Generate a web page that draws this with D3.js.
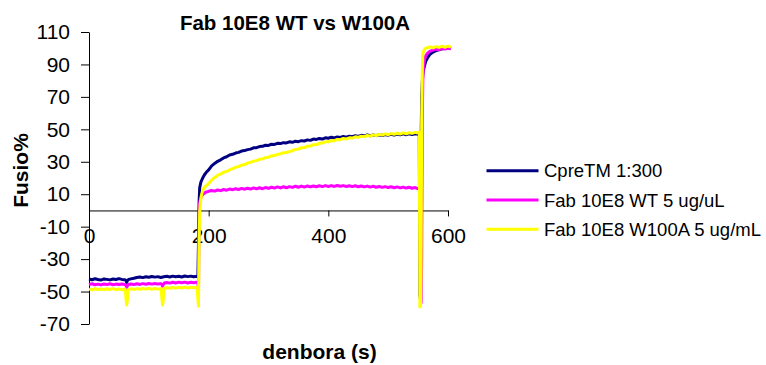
<!DOCTYPE html>
<html><head><meta charset="utf-8">
<script src="https://cdn.jsdelivr.net/npm/d3@7/dist/d3.min.js"></script>
<style>
html,body{margin:0;padding:0;background:#fff;}
svg{display:block;font-family:"Liberation Sans",Arial,sans-serif;}
</style></head>
<body>
<svg id="c" width="766" height="365"></svg>
<script>
const title = "Fab 10E8 WT vs W100A";
const xLabel = "denbora (s)";
const yLabel = "Fusio%";
const xTicks = [0, 200, 400, 600];
const yTicks = [-70, -50, -30, -10, 10, 30, 50, 70, 90, 110];
const seriesNames = ["CpreTM 1:300", "Fab 10E8 WT 5 ug/uL", "Fab 10E8 W100A 5 ug/mL"];
const seriesColors = ["#000080", "#FF00FF", "#FFFF00"];

// CpreTM 1:300  [time s, fusion %]
const cpreTM = [
 [0,-42.3],[5,-42.7],[10,-42.1],[15,-42.6],[20,-42.9],[25,-42.2],[30,-42.5],[35,-42.8],[40,-42.3],[45,-42.6],
 [50,-42.0],[55,-42.5],[60,-42.7],[62,-43.2],[63,-44.5],[64,-43.4],[66,-42.6],[70,-42.2],[75,-41.8],[80,-41.3],
 [85,-41.0],[90,-41.4],[95,-40.9],[100,-41.2],[105,-40.7],[110,-41.1],[115,-40.8],[120,-41.3],[125,-40.9],[130,-40.6],
 [135,-41.0],[140,-40.5],[145,-40.9],[150,-40.6],[155,-41.0],[160,-40.4],[165,-40.8],[170,-40.5],[175,-40.9],[180,-40.6],
 [182,-41.0],[183,-20],[184,5],[185,14],[187,17.5],[190,20],[193,22],[196,23.5],[200,25],[205,27.5],
 [210,29],[215,30.3],[220,31.2],[225,32.4],[230,33.1],[235,34.2],[240,34.6],[245,35.4],[250,35.8],[255,36.6],
 [260,36.9],[265,37.5],[270,37.8],[275,38.6],[280,38.7],[285,39.4],[290,39.5],[295,40.2],[300,40.1],[305,40.8],
 [310,40.7],[315,41.4],[320,41.2],[325,41.8],[330,41.6],[335,42.3],[340,42.0],[345,42.7],[350,42.4],[355,43.0],
 [360,42.8],[365,43.5],[370,43.2],[375,44.0],[380,43.8],[385,44.4],[390,44.0],[395,44.8],[400,44.5],[405,45.1],
 [410,44.7],[415,45.3],[420,45.0],[425,45.6],[430,45.2],[435,45.8],[440,45.5],[445,46.1],[450,45.6],[455,46.3],
 [460,45.9],[465,46.5],[470,46.0],[475,46.6],[480,46.1],[485,46.7],[490,46.2],[495,46.8],[500,46.4],[505,47.0],
 [510,46.5],[515,47.1],[520,46.6],[525,47.2],[530,46.7],[535,47.3],[540,46.8],[545,47.3],[550,47.0],[552,47.1],
 [553,-52],[554,-55],[555,40],[556,70],[557,79],[558,84],[559,86.5],[561,89.5],[563,92],[566,94.2],
 [570,96.3],[575,97.6],[580,98.5],[585,99.0],[590,99.6],[595,99.8],[600,100.3],[605,100.0]
];

// Fab 10E8 WT 5 ug/uL
const fabWT = [
 [0,-45.6],[5,-45.2],[10,-45.8],[15,-45.4],[20,-45.9],[25,-45.3],[30,-45.7],[35,-45.2],[40,-45.8],[45,-45.4],
 [50,-45.7],[55,-45.3],[60,-45.6],[62,-46.3],[63,-47.5],[64,-46.6],[66,-45.6],[70,-45.3],[75,-45.7],[80,-45.2],
 [85,-45.6],[90,-45.1],[95,-45.5],[100,-45.0],[105,-45.4],[110,-45.0],[115,-45.4],[120,-45.1],[122,-45.8],[123,-46.8],
 [124,-45.8],[126,-44.7],[130,-44.4],[135,-44.8],[140,-44.3],[145,-44.7],[150,-44.2],[155,-44.6],[160,-44.2],[165,-44.7],
 [170,-44.3],[175,-44.6],[180,-44.2],[182,-44.5],[183,-52],[184,0],[185,5],[187,8],[190,9.8],[195,11.2],
 [200,11.8],[205,12.3],[210,11.9],[215,12.6],[220,12.2],[225,12.9],[230,12.5],[235,13.2],[240,12.8],[245,13.4],
 [250,12.9],[255,13.6],[260,13.1],[265,13.7],[270,13.2],[275,13.9],[280,13.3],[285,14.0],[290,13.4],[295,14.1],
 [300,13.6],[305,14.3],[310,13.8],[315,14.5],[320,13.9],[325,14.6],[330,14.0],[335,14.7],[340,14.2],[345,14.9],
 [350,14.3],[355,15.0],[360,14.4],[365,15.1],[370,14.5],[375,15.1],[380,14.6],[385,15.2],[390,14.7],[395,15.3],
 [400,14.8],[405,15.3],[410,14.8],[415,15.4],[420,14.9],[425,15.3],[430,14.8],[435,15.2],[440,14.7],[445,15.2],
 [450,14.6],[455,15.1],[460,14.5],[465,15.0],[470,14.4],[475,14.9],[480,14.3],[485,14.8],[490,14.2],[495,14.7],
 [500,14.1],[505,14.6],[510,14.0],[515,14.5],[520,13.9],[525,14.4],[530,13.8],[535,14.3],[540,13.7],[545,14.1],
 [548,13.6],[554,13.5],[555,-57],[556,-30],[557,55],[558,82],[559,89],[561,93],[563,95.5],[566,97],
 [570,98.2],[575,98.8],[580,99.4],[585,99.1],[590,99.8],[595,99.5],[600,100.1],[605,99.7]
];

// Fab 10E8 W100A 5 ug/mL
const fabW100A = [
 [0,-48.5],[5,-48.9],[10,-48.3],[15,-48.8],[20,-48.4],[25,-48.9],[30,-48.3],[35,-48.7],[40,-48.2],[45,-48.8],
 [50,-48.4],[55,-48.9],[60,-48.4],[61,-50],[62,-55],[63,-58.3],[64,-56],[65,-49],[70,-48.3],[75,-48.7],
 [80,-48.2],[85,-48.6],[90,-48.1],[95,-48.5],[100,-48.0],[105,-48.6],[110,-48.1],[115,-48.5],[120,-48.2],[121,-50],
 [122,-55],[123,-58.3],[124,-56],[125,-48],[130,-47.6],[135,-48.0],[140,-47.5],[145,-47.9],[150,-47.4],[155,-47.8],
 [160,-47.3],[165,-47.8],[170,-47.4],[175,-47.7],[180,-47.3],[181,-49],[182,-55],[183,-59],[184,-20],[185,-1],
 [186,4.5],[188,9.5],[190,12.5],[193,14.2],[196,15.3],[200,16.6],[204,18.3],[208,19.8],[212,20.7],[216,21.9],
 [220,22.4],[225,23.5],[230,24.0],[236,25.2],[240,25.6],[245,26.6],[250,27.0],[255,27.9],[260,28.3],[265,29.2],
 [270,29.6],[275,30.4],[280,30.7],[285,31.5],[290,31.8],[295,32.6],[300,32.8],[305,33.6],[310,33.8],[315,34.6],
 [320,34.8],[325,35.6],[330,35.7],[336,36.4],[340,36.8],[345,37.6],[350,37.8],[355,38.7],[360,38.8],[365,39.6],
 [370,39.7],[375,40.5],[381,40.6],[385,41.4],[390,41.5],[395,42.3],[400,42.3],[405,43.1],[410,43.0],[415,43.8],
 [420,43.6],[425,44.4],[430,44.1],[436,44.8],[440,44.6],[445,45.4],[450,45.1],[455,45.8],[460,45.5],[465,46.2],
 [470,45.8],[475,46.6],[480,46.1],[485,46.9],[490,46.4],[495,47.2],[500,46.7],[505,47.4],[510,47.0],[515,47.6],
 [520,47.1],[525,47.8],[530,47.3],[535,47.9],[540,47.5],[545,48.1],[548,47.8],[552,48.2],[553,-59.5],[554,-59],
 [555,-40],[556,55],[557,85],[558,97],[560,98.8],[562,99.8],[565,100.3],[570,100.8],[575,100.2],[580,101.0],
 [585,100.5],[590,101.2],[595,100.6],[600,101.3],[605,100.7]
];

const seriesData = [cpreTM, fabWT, fabW100A];

const svg = d3.select("#c");
const x = d3.scaleLinear().domain([0, 600]).range([89, 448]);
const y = d3.scaleLinear().domain([-70, 110]).range([324, 32]);
const fmt = d => String(d);

// Title
svg.append("text").attr("x", 295).attr("y", 29.5).attr("text-anchor", "middle")
  .attr("font-size", 20.5).attr("font-weight", "bold").text(title);

// Y axis
const yAxis = svg.append("g").attr("transform", `translate(${x(0)},0)`)
  .call(d3.axisLeft(y).tickValues(yTicks).tickSize(8).tickPadding(11).tickSizeOuter(0).tickFormat(fmt));
yAxis.selectAll("text").attr("font-size", 21).attr("fill", "#000")
  .attr("font-family", '"Liberation Sans",Arial,sans-serif');
yAxis.select(".domain").attr("stroke", "#000");
yAxis.selectAll(".tick line").attr("stroke", "#000");

// X axis at y=0
const xAxis = svg.append("g").attr("transform", `translate(0,${y(0)})`)
  .call(d3.axisBottom(x).tickValues(xTicks).tickSize(6).tickPadding(12).tickSizeOuter(0).tickFormat(fmt));
xAxis.selectAll("text").attr("font-size", 21).attr("fill", "#000")
  .attr("font-family", '"Liberation Sans",Arial,sans-serif');
xAxis.select(".domain").attr("stroke", "#000");
xAxis.selectAll(".tick line").attr("stroke", "#000");

// Axis titles
svg.append("text").attr("transform", "translate(28,170.5) rotate(-90)")
  .attr("text-anchor", "middle").attr("font-size", 21).attr("font-weight", "bold").text(yLabel);
svg.append("text").attr("x", 319.5).attr("y", 359).attr("text-anchor", "middle")
  .attr("font-size", 21).attr("font-weight", "bold").text(xLabel);

// Lines
const line = d3.line().x(d => x(d[0])).y(d => y(d[1]));
seriesData.forEach((s, i) => {
  svg.append("path").datum(s).attr("d", line)
    .attr("fill", "none").attr("stroke", seriesColors[i])
    .attr("stroke-width", 3).attr("stroke-linejoin", "round");
});

// Legend
const lg = svg.append("g");
seriesNames.forEach((n, i) => {
  const yy = 170.7 + i * 29.3;
  lg.append("line").attr("x1", 486.5).attr("x2", 538.5).attr("y1", yy).attr("y2", yy)
    .attr("stroke", seriesColors[i]).attr("stroke-width", 3);
  lg.append("text").attr("x", 544).attr("y", yy + 6.5).attr("font-size", 18.5).text(n);
});
</script>
</body></html>
